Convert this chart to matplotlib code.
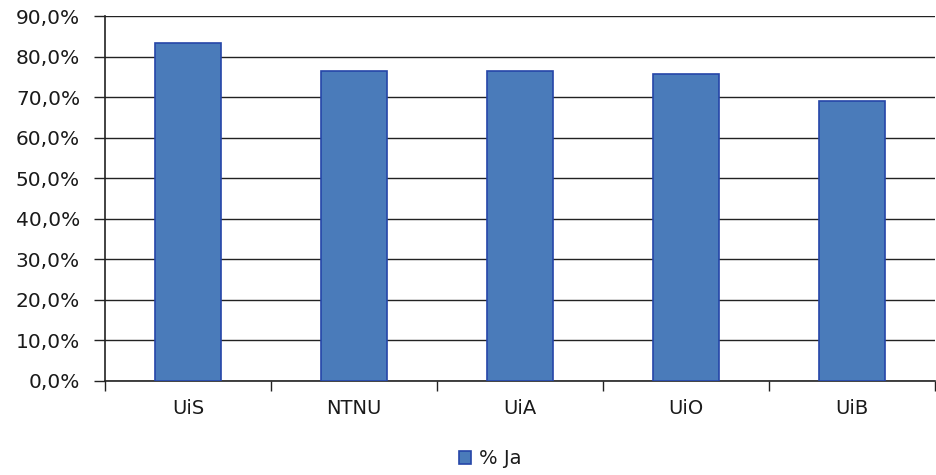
import matplotlib.pyplot as plt
from matplotlib.ticker import FuncFormatter, MultipleLocator
import numpy as np

categories = ['UiS', 'NTNU', 'UiA', 'UiO', 'UiB']
values = [83.4, 76.4, 76.4, 75.8, 69.0]
series_name = '% Ja'

fig = plt.figure(figsize=(9.36, 4.75), dpi=100)
ax = fig.add_axes([105 / 936, 1 - 381 / 475, 830 / 936, 365 / 475])

x = np.arange(len(categories))
ax.bar(x, values, width=0.4, color='#4a7bba', edgecolor='#2545a8',
       linewidth=1.2, label=series_name, zorder=3)

ax.set_xlim(-0.5, len(categories) - 0.5)
ax.set_ylim(0, 90)
ax.yaxis.set_major_locator(MultipleLocator(10))
ax.yaxis.set_major_formatter(FuncFormatter(lambda v, p: f'{v:.1f}%'.replace('.', ',')))
ax.grid(axis='y', color='#222222', linewidth=1.0, zorder=0)

ax.set_xticks(x)
ax.set_xticklabels(categories)
ax.set_xticks(np.arange(len(categories) + 1) - 0.5, minor=True)
ax.tick_params(axis='x', which='major', length=0, pad=13, labelsize=14, labelcolor='#1a1a1a')
ax.tick_params(axis='x', which='minor', length=7, width=1, color='#222222')
ax.tick_params(axis='y', length=8, width=1, color='#222222', pad=10, labelsize=14.5,
               labelcolor='#1a1a1a')

for s in ['top', 'right']:
    ax.spines[s].set_visible(False)
for s in ['left', 'bottom']:
    ax.spines[s].set_color('#222222')
    ax.spines[s].set_linewidth(1.2)

leg = fig.legend(loc='center', bbox_to_anchor=(490 / 936, 1 - 459 / 475), frameon=False,
                 fontsize=14, handlelength=0.65, handleheight=0.65, handletextpad=0.4)
for t in leg.get_texts():
    t.set_color('#1a1a1a')

plt.savefig('out.png', dpi=100)
